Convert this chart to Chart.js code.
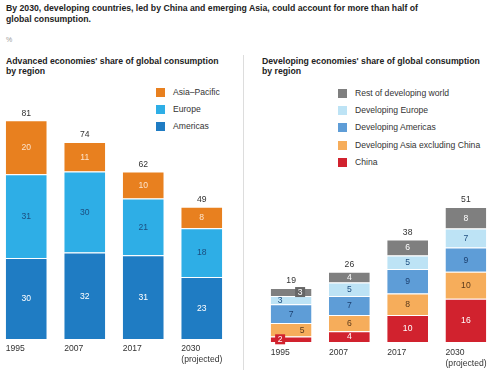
<!DOCTYPE html>
<html>
<head>
<meta charset="utf-8">
<script src="https://cdn.jsdelivr.net/npm/chart.js@4.4.1/dist/chart.umd.min.js"></script>
<style>
  html, body { margin: 0; padding: 0; background: #fff; }
  body { width: 500px; height: 381px; position: relative; overflow: hidden; font-family: "Liberation Sans", Arial, sans-serif; color: #222; }
  .title { position: absolute; left: 6px; top: 3px; font-size: 8.7px; font-weight: bold; line-height: 11px; white-space: nowrap; }
  .unit { position: absolute; left: 6px; top: 36px; font-size: 7px; color: #999; }
  .sub { position: absolute; top: 56px; font-size: 8.7px; font-weight: bold; line-height: 10px; white-space: nowrap; }
  .divider { position: absolute; left: 243px; top: 55px; width: 1px; height: 315px; background: #ddd; }
  .legend { position: absolute; font-size: 8.6px; color: #333; }
  .legend div { height: 17.2px; line-height: 9px; white-space: nowrap; }
  .legend span { display: inline-block; width: 9px; height: 9px; vertical-align: top; margin-right: 8px; }
  .box { position: absolute; top: 90px; height: 280px; }
</style>
</head>
<body>
<div class="title">By 2030, developing countries, led by China and emerging Asia, could account for more than half of<br>global consumption.</div>
<div class="unit">%</div>
<div class="sub" style="left:6px">Advanced economies' share of global consumption<br>by region</div>
<div class="sub" style="left:262px">Developing economies' share of global consumption<br>by region</div>
<div class="divider"></div>
<div class="legend" id="leg-adv" style="left:156px; top:88px"></div>
<div class="legend" id="leg-dev" style="left:338px; top:89px"></div>
<div class="box" style="left:-3px; width:234px"><canvas id="chart-adv"></canvas></div>
<div class="box" style="left:262px; width:233px"><canvas id="chart-dev"></canvas></div>
<script>
// categories
const years = ['1995', '2007', '2017', '2030\n(projected)'];

// advanced economies, bottom to top
const advNames = ['Americas', 'Europe', 'Asia–Pacific'];
const advAmericas = [30, 32, 31, 23];
const advEurope = [31, 30, 21, 18];
const advAsiaPac = [20, 11, 10, 8];
const advTotals = [81, 74, 62, 49];

// developing economies, bottom to top
const devNames = ['China', 'Developing Asia excluding China', 'Developing Americas', 'Developing Europe', 'Rest of developing world'];
const devChina = [2, 4, 10, 16];
const devAsia = [5, 6, 8, 10];
const devAmericas = [7, 7, 9, 9];
const devEurope = [3, 5, 5, 7];
const devRest = [3, 4, 6, 8];
const devTotals = [19, 26, 38, 51];

const FONT = '"Liberation Sans", Arial, sans-serif';

function makeLegend(id, names, colors) {
  const el = document.getElementById(id);
  for (let i = names.length - 1; i >= 0; i--) {
    const row = document.createElement('div');
    row.innerHTML = `<span style="background:${colors[i]}"></span>${names[i]}`;
    el.appendChild(row);
  }
}

// draws segment values, totals and left aligned year labels
const labelsPlugin = {
  id: 'labels',
  afterDatasetsDraw(chart, args, opts) {
    const ctx = chart.ctx;
    const area = chart.chartArea;
    ctx.save();
    ctx.font = '8.6px ' + FONT;
    ctx.textBaseline = 'middle';
    chart.data.datasets.forEach((ds, di) => {
      const meta = chart.getDatasetMeta(di);
      meta.data.forEach((bar, i) => {
        let x = bar.x;
        const y = (bar.y + bar.base) / 2;
        const tweak = opts.tweak && opts.tweak[di + ':' + i];
        if (tweak) {
          x = bar.x + tweak.dx;
          if (tweak.bg) {
            ctx.fillStyle = tweak.bg;
            ctx.fillRect(x - 5, y - 5, 10, 10);
          }
        }
        ctx.textAlign = 'center';
        ctx.fillStyle = ds.labelColor;
        ctx.fillText(String(ds.data[i]), x, y + 0.5);
      });
    });
    const last = chart.getDatasetMeta(chart.data.datasets.length - 1);
    ctx.fillStyle = '#333';
    ctx.textAlign = 'center';
    last.data.forEach((bar, i) => {
      ctx.fillText(String(opts.totals[i]), bar.x, bar.y - 7);
    });
    ctx.textAlign = 'left';
    last.data.forEach((bar, i) => {
      const lines = chart.data.labels[i].split('\n');
      lines.forEach((ln, k) => {
        ctx.fillText(ln, bar.x - bar.width / 2, area.bottom + opts.labelGap + k * 10.5);
      });
    });
    ctx.restore();
  }
};

function buildChart(id, series, names, colors, labelColors, totals, pad, labelGap, tweak) {
  return new Chart(document.getElementById(id), {
    type: 'bar',
    data: {
      labels: years,
      datasets: series.map((s, i) => ({
        label: names[i],
        data: s,
        backgroundColor: colors[i],
        borderColor: '#fff',
        borderWidth: { top: 1, bottom: 0, left: 0, right: 0 },
        borderSkipped: false,
        labelColor: labelColors[i],
        barPercentage: 1,
        categoryPercentage: 0.7,
      })),
    },
    options: {
      responsive: true,
      maintainAspectRatio: false,
      animation: false,
      layout: { padding: pad },
      plugins: {
        legend: { display: false },
        tooltip: { enabled: false },
        labels: { totals: totals, labelGap: labelGap, tweak: tweak },
      },
      scales: {
        x: { stacked: true, display: false },
        y: { stacked: true, display: false, min: 0, max: 90 },
      },
    },
    plugins: [labelsPlugin],
  });
}

const advColors = ['#1f7cc3', '#2eaee6', '#e8801f'];
const advLabelColors = ['#ffffff', '#1c4f80', '#fde3cc'];
const devColors = ['#d1222e', '#f6ad5b', '#5e9dd7', '#bde3f5', '#7f7f7f'];
const devLabelColors = ['#ffffff', '#5a3a1c', '#1c3f6e', '#1f4f80', '#ffffff'];

makeLegend('leg-adv', advNames, advColors);
makeLegend('leg-dev', devNames, devColors);

buildChart('chart-adv', [advAmericas, advEurope, advAsiaPac], advNames, advColors, advLabelColors,
  advTotals, { top: 6, bottom: 31, left: 0, right: 0 }, 10, null);

buildChart('chart-dev', [devChina, devAsia, devAmericas, devEurope, devRest], devNames, devColors, devLabelColors,
  devTotals, { top: 9, bottom: 28, left: 0, right: 0 }, 11,
  { '0:0': { dx: -11, bg: '#d1222e' }, '1:0': { dx: 11 }, '3:0': { dx: -11 }, '4:0': { dx: 9, bg: '#666' } });
</script>
</body>
</html>
